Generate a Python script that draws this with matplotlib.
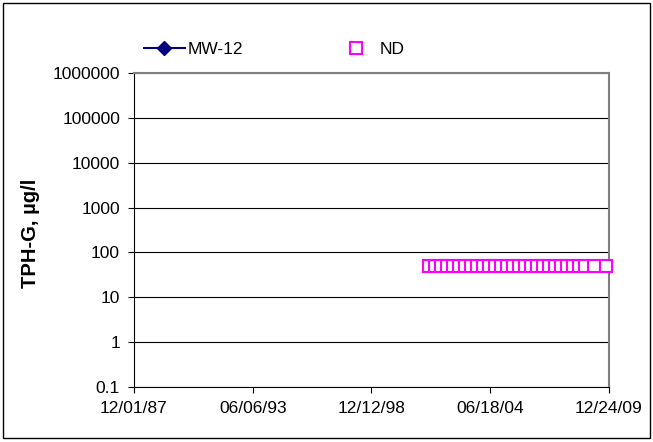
import matplotlib
matplotlib.use("Agg")
import matplotlib.pyplot as plt
from matplotlib.patches import Rectangle
import pandas as pd

plt.rcParams['font.family'] = ['Liberation Sans', 'DejaVu Sans']

# ND sample dates (non-detect, plotted at the reporting limit)
nd_dates = pd.to_datetime([
    "2001-08-07", "2001-11-17", "2002-02-27", "2002-06-09", "2002-09-19",
    "2002-12-30", "2003-04-11", "2003-07-22", "2003-11-01", "2004-02-11",
    "2004-05-23", "2004-09-02", "2004-12-13", "2005-03-25", "2005-07-05",
    "2005-10-15", "2006-01-25", "2006-05-07", "2006-08-17", "2006-11-27",
    "2007-03-09", "2007-06-19", "2007-09-29", "2008-01-09", "2008-04-20",
    "2008-07-31", "2008-11-10", "2009-04-13", "2009-11-03",
])
nd_values = [50] * len(nd_dates)

# detected MW-12 values (none in this record)
mw_dates = pd.to_datetime([])
mw_values = []

x_ticks = pd.to_datetime(["1987-12-01", "1993-06-06", "1998-12-12", "2004-06-18", "2009-12-24"])
x_labels = ["12/01/87", "06/06/93", "12/12/98", "06/18/04", "12/24/09"]
y_ticks = [0.1, 1, 10, 100, 1000, 10000, 100000, 1000000]
y_labels = ["0.1", "1", "10", "100", "1000", "10000", "100000", "1000000"]

fig = plt.figure(figsize=(6.53, 4.42), dpi=100)
ax = fig.add_axes([0.2052, 0.1244, 0.7274, 0.7104])

ax.plot(mw_dates, mw_values, color="#000080", marker="D", markersize=7,
        linewidth=1.5, label="MW-12")
ax.plot(nd_dates, nd_values, linestyle="none", marker="s", markersize=8,
        markerfacecolor="white", markeredgecolor="#FF00FF", markeredgewidth=1.5,
        label="ND", clip_on=False, zorder=5)

ax.set_yscale("log")
ax.set_ylim(0.1, 1000000)
ax.set_yticks(y_ticks)
ax.set_yticklabels(y_labels)
ax.yaxis.set_minor_locator(matplotlib.ticker.NullLocator())
ax.set_xlim(x_ticks[0], x_ticks[-1])
ax.set_xticks(x_ticks)
ax.set_xticklabels(x_labels)
ax.xaxis.set_minor_locator(matplotlib.ticker.NullLocator())

ax.grid(axis="y", color="black", linewidth=0.8)
ax.set_axisbelow(True)
ax.tick_params(labelsize=12.5, length=4, width=0.8, pad=6)
for s in ("top", "right"):
    ax.spines[s].set_color("#808080")
    ax.spines[s].set_linewidth(1.5)
for s in ("left", "bottom"):
    ax.spines[s].set_linewidth(0.8)

ax.set_ylabel("TPH-G, µg/l", fontsize=14.5, fontweight="bold")
ax.yaxis.set_label_coords(-0.198, 0.49)

fig.legend(loc="upper left", bbox_to_anchor=(0.22, 0.906), ncol=2, frameon=False,
           fontsize=12.5, columnspacing=5.3, handlelength=2.4, handletextpad=0.15,
           borderpad=0, borderaxespad=0)

fig.patches.append(Rectangle((0.005, 0.008), 0.99, 0.985, transform=fig.transFigure,
                             fill=False, edgecolor="black", linewidth=1))

fig.savefig("out.png", dpi=100)
